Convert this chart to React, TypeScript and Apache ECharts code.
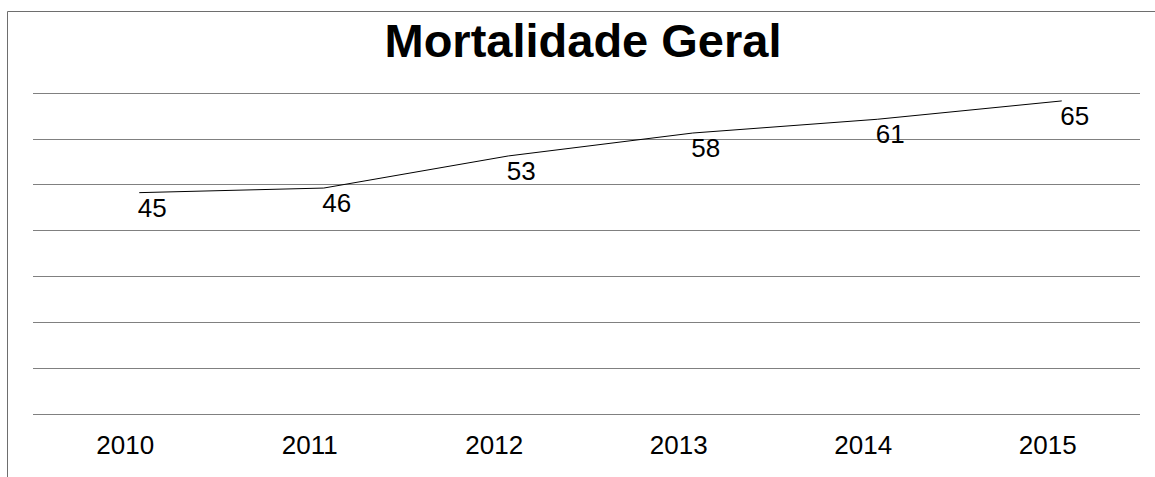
import React, { useEffect, useRef } from "react";
import * as echarts from "echarts";

const titleText = "Mortalidade Geral";
const years = ["2010", "2011", "2012", "2013", "2014", "2015"];
const mortality = [45, 46, 53, 58, 61, 65];
const yMin = 0;
const yMax = 70;
const yStep = 10;

export default function App() {
  const ref = useRef<HTMLDivElement>(null);
  useEffect(() => {
    if (!ref.current) return;
    const chart = echarts.init(ref.current, null, { renderer: "svg" });
    const font = "'Liberation Sans', Arial, sans-serif";
    chart.setOption({
      animation: false,
      backgroundColor: "#ffffff",
      textStyle: { fontFamily: font },
      title: {
        text: titleText,
        left: 578,
        textAlign: "center",
        top: 12,
        textStyle: { fontSize: 47, fontWeight: "bold", color: "#000", fontFamily: font },
      },
      graphic: [
        {
          type: "rect",
          shape: { x: 7.5, y: 11.5, width: 1400, height: 700 },
          style: { fill: "none", stroke: "#6e6e6e", lineWidth: 1 },
          silent: true,
        },
      ],
      grid: [
        { left: 33, right: 15, top: 93, bottom: 63 },
        { left: 47, right: 1, top: 78, bottom: 78 },
      ],
      xAxis: [
        {
          type: "category",
          gridIndex: 0,
          data: years,
          boundaryGap: true,
          axisLine: { show: false },
          axisTick: { show: false },
          axisLabel: { fontSize: 26, color: "#000", margin: 18, fontFamily: font },
        },
        {
          type: "category",
          gridIndex: 1,
          data: years,
          boundaryGap: true,
          show: false,
        },
      ],
      yAxis: [
        {
          type: "value",
          gridIndex: 0,
          min: yMin,
          max: yMax,
          interval: yStep,
          axisLine: { show: false },
          axisTick: { show: false },
          axisLabel: { show: false },
          splitLine: { show: true, lineStyle: { color: "#808080", width: 1 } },
        },
        {
          type: "value",
          gridIndex: 1,
          min: yMin,
          max: yMax,
          interval: yStep,
          show: false,
          splitLine: { show: false },
        },
      ],
      series: [
        {
          type: "line",
          xAxisIndex: 0,
          yAxisIndex: 0,
          data: mortality,
          showSymbol: true,
          symbol: "circle",
          symbolSize: 1,
          lineStyle: { width: 0, color: "transparent" },
          itemStyle: { color: "transparent", borderWidth: 0 },
          label: {
            show: true,
            position: "right",
            distance: 12,
            fontSize: 26,
            color: "#000",
            fontFamily: font,
          },
        },
        {
          type: "line",
          xAxisIndex: 1,
          yAxisIndex: 1,
          data: mortality,
          showSymbol: false,
          lineStyle: { color: "#000", width: 1 },
          label: { show: false },
        },
      ],
    });
    return () => chart.dispose();
  }, []);
  return (
    <div
      ref={ref}
      style={{ position: "fixed", left: 0, top: 0, width: 1155, height: 477 }}
    />
  );
}
